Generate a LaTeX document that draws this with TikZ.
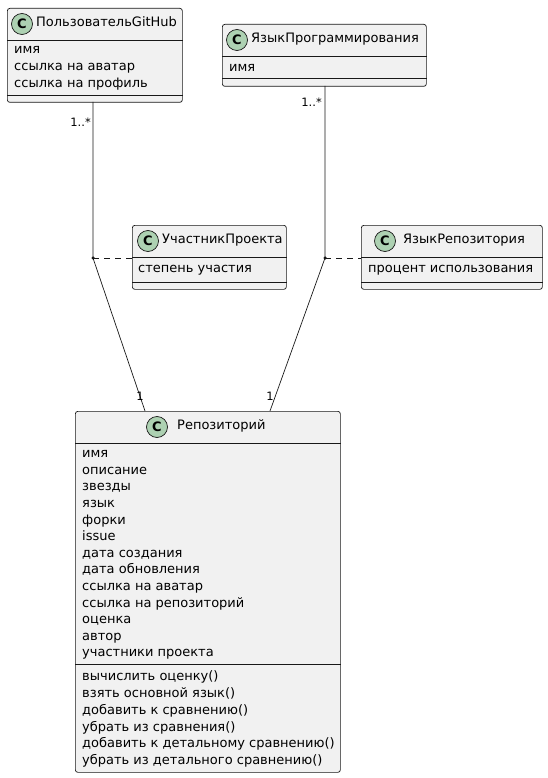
\documentclass[tikz,border=0pt]{standalone}
\usepackage{fontspec}
\setmainfont{DejaVu Sans}
\usetikzlibrary{calc}
\definecolor{boxfill}{HTML}{F1F1F1}
\definecolor{boxline}{HTML}{181818}
\definecolor{circfill}{HTML}{ADD1B2}
\tikzset{
  classbox/.style={draw=boxline, fill=boxfill, rounded corners=2.5pt, line width=0.7pt, anchor=north west, inner sep=0},
  ctext/.style={anchor=mid west, inner sep=0, text=black, font=\fontsize{13}{15}\selectfont},
  cmark/.style={circle, draw=boxline, fill=circfill, line width=0.7pt, minimum size=21pt, inner sep=0, font=\bfseries\fontsize{13}{13}\selectfont},
  sepline/.style={draw=boxline, line width=0.6pt},
  assoc/.style={draw=boxline, line width=0.7pt},
  dashlink/.style={assoc, dash pattern=on 6pt off 5pt},
  mult/.style={inner sep=0, font=\fontsize{11.5}{13}\selectfont},
  junction/.style={circle, fill=boxline, inner sep=0, minimum size=3.5pt},
}
\begin{document}
\begin{tikzpicture}[x=1pt,y=-1pt]
\useasboundingbox (0,0) rectangle (548,778);
% ---------- ПользовательGitHub
\node[classbox, minimum width=175pt, minimum height=94pt] (user) at (7,8) {};
\draw[sepline] ($(user.north west)+(0,32)$) -- ($(user.north east)+(0,32)$);
\draw[sepline] ($(user.north west)+(0,87)$) -- ($(user.north east)+(0,87)$);
\node[cmark] (user-c) at (22,24) {C};
\node[ctext] (user-n) at (36,24) {ПользовательGitHub};
\node[ctext] (user-a1) at (14,51) {имя};
\node[ctext] (user-a2) at (14,68) {ссылка на аватар};
\node[ctext] (user-a3) at (14,85) {ссылка на профиль};
% ---------- ЯзыкПрограммирования
\node[classbox, minimum width=204pt, minimum height=62pt] (lang) at (222,24) {};
\draw[sepline] ($(lang.north west)+(0,32)$) -- ($(lang.north east)+(0,32)$);
\draw[sepline] ($(lang.north west)+(0,54)$) -- ($(lang.north east)+(0,54)$);
\node[cmark] (lang-c) at (237,40) {C};
\node[ctext] (lang-n) at (251,40) {ЯзыкПрограммирования};
\node[ctext] (lang-a1) at (229,69) {имя};
% ---------- УчастникПроекта
\node[classbox, minimum width=154pt, minimum height=64pt] (part) at (132,225) {};
\draw[sepline] ($(part.north west)+(0,32)$) -- ($(part.north east)+(0,32)$);
\draw[sepline] ($(part.north west)+(0,57)$) -- ($(part.north east)+(0,57)$);
\node[cmark] (part-c) at (148,241) {C};
\node[ctext] (part-n) at (162,241) {УчастникПроекта};
\node[ctext] (part-a1) at (138,270) {степень участия};
% ---------- ЯзыкРепозитория
\node[classbox, minimum width=181pt, minimum height=64pt] (rlang) at (361,225) {};
\draw[sepline] ($(rlang.north west)+(0,32)$) -- ($(rlang.north east)+(0,32)$);
\draw[sepline] ($(rlang.north west)+(0,57)$) -- ($(rlang.north east)+(0,57)$);
\node[cmark] (rlang-c) at (385,241) {C};
\node[ctext] (rlang-n) at (403,241) {ЯзыкРепозитория};
\node[ctext] (rlang-a1) at (368,270) {процент использования};
% ---------- Репозиторий
\node[classbox, minimum width=265pt, minimum height=361pt] (repo) at (75,411) {};
\draw[sepline] ($(repo.north west)+(0,32)$) -- ($(repo.north east)+(0,32)$);
\draw[sepline] ($(repo.north west)+(0,253)$) -- ($(repo.north east)+(0,253)$);
\node[cmark] (repo-c) at (157,427) {C};
\node[ctext] (repo-n) at (177,427) {Репозиторий};
\foreach \t [count=\i] in {имя,описание,звезды,язык,форки,issue,дата создания,дата обновления,ссылка на аватар,ссылка на репозиторий,оценка,автор,участники проекта}
  \node[ctext] (repo-a\i) at (82,{455+16.6*(\i-1)}) {\t};
\foreach \t [count=\i] in {вычислить оценку(),взять основной язык(),добавить к сравнению(),убрать из сравнения(),добавить к детальному сравнению(),убрать из детального сравнению()}
  \node[ctext] (repo-m\i) at (82,{678+16.8*(\i-1)}) {\t};
% ---------- associations
\coordinate (u-top) at (93,102);
\node[junction] (j1) at (93,258) {};
\coordinate (r-left) at (145,411);
\draw[assoc] (u-top) -- (j1.center) -- (r-left);
\draw[dashlink] (j1.center) -- (part.west |- j1);
\node[mult, anchor=east] (m1) at (91,122) {1..*};
\node[mult] (m2) at (140,396) {1};

\coordinate (l-bot) at (325,86);
\node[junction] (j2) at (325,258) {};
\coordinate (r-right) at (270,411);
\draw[assoc] (l-bot) -- (j2.center) -- (r-right);
\draw[dashlink] (j2.center) -- (rlang.west |- j2);
\node[mult, anchor=east] (m3) at (322,102) {1..*};
\node[mult] (m4) at (270,396) {1};
\end{tikzpicture}
\end{document}
